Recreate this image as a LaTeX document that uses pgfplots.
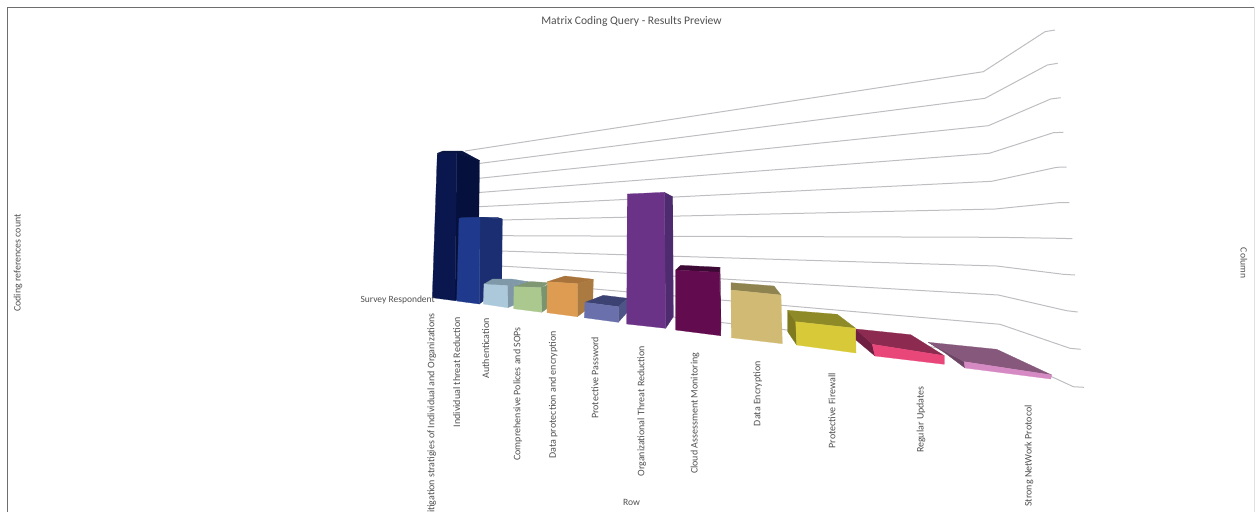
\documentclass[border=0pt]{standalone}
\usepackage{fontspec}
\setmainfont{Carlito}
\usepackage{pgfplots}
\pgfplotsset{compat=1.18}
\globalcolorstrue

\definecolor{txt}{HTML}{505050}
\definecolor{gridc}{HTML}{BEBEC2}
\definecolor{framec}{HTML}{6E6E6E}

% One flat facet of a perspective bar, in image coordinates
\newcommand{\face}[2]{\definecolor{f#1}{HTML}{#1}\addplot[fill=f#1,draw=f#1,line width=0.25pt,line join=round] coordinates {#2} -- cycle;}
\newcommand{\floorline}[1]{\addplot[gridc,line width=1pt,line join=round] coordinates {#1};}
\newcommand{\rowlabel}[3]{\node[rotate=90,anchor=east,inner sep=0pt,text=txt,font=\fontsize{10}{11}\selectfont] at (axis cs:#1,#2) {#3};}

\begin{document}
\begin{tikzpicture}
\path[use as bounding box,clip] (0,0) rectangle (1255pt,512pt);
\begin{axis}[
  at={(0,0)},anchor=south west,
  scale only axis,width=1255pt,height=512pt,
  xmin=0,xmax=1255,ymin=0,ymax=512,y dir=reverse,
  hide axis,clip=false]

% outer frame
\addplot[framec,line width=0.9pt] coordinates {(7.3,512) (7.3,7.3) (1255,7.3)};
\addplot[black!12,line width=0.6pt] coordinates {(1254.3,7.3) (1254.3,512)};

% receding lines of the value grid
\floorline{(465,151) (983.3,71.7) (1045,31.7) (1055,30)}
\floorline{(479,163.5) (985,98.3) (1047.3,65) (1057.7,63.3)}
\floorline{(479,178.3) (988.3,125.7) (1050.7,99) (1060.7,97.7)}
\floorline{(479,192.5) (989.3,153.3) (1053.3,132.7) (1063.3,132.3)}
\floorline{(479,206.7) (991.7,181.3) (1056.7,167.3) (1066.7,167)}
\floorline{(500,220) (995,209) (1058.3,202.7) (1069.3,202.7)}
\floorline{(500,235.7) (996.7,237.3) (1060,238.3) (1072.3,238.7)}
\floorline{(500,251) (996.7,266) (1063.3,274.3) (1075,275)}
\floorline{(500,266) (998.3,295) (1066.7,310.7) (1077.7,312)}
\floorline{(560,286) (1000,324.3) (1070,348.3) (1080.7,349.3)}
\floorline{(673,317) (787,330) (1000,355) (1051.7,376.7) (1073.3,386.7) (1084,387.3)}

% Mitigation
\face{0A153F}{(437.3,153.3) (443,151) (462,151) (479.5,160.5) (456.7,153)}
\face{06103C}{(456.7,152.7) (479.5,160.5) (478,290) (455,300.7)}
\face{0A174E}{(437.3,153.3) (456.7,152.7) (455,300.7) (432.3,297.7)}
% Individual threat reduction
\face{1B2E70}{(459,218.3) (463,217.3) (497,217.3) (502.3,219) (480,217.6)}
\face{1B2E71}{(480,217.3) (502.3,219) (501.7,287) (479.3,304)}
\face{1F3A8C}{(459,218.3) (480,217.3) (479.3,304) (456.7,301)}
% Authentication
\face{8099A8}{(484,284) (492.7,279) (511.7,279) (528.3,281.7) (507.3,285.7)}
\face{7F97A6}{(507.3,285.7) (528.3,281.7) (526,300) (507.7,307.7)}
\face{ABC9DA}{(484,284) (507.3,285.7) (507.7,307.7) (483.3,304)}
% Comprehensive policies
\face{7F9873}{(514,286.7) (530,281.5) (549,282.7) (541,287.7)}
\face{7B9470}{(541,287.7) (552,283) (552,305) (541.7,312.3)}
\face{ABC88F}{(514,286.7) (541,287.7) (541.7,312.3) (513.7,308.7)}
% Data protection
\face{A8743C}{(547.3,281.7) (565,276) (593.3,279.3) (577.3,283.7)}
\face{AA7A40}{(577.3,283.7) (593.3,279.3) (592.7,305) (577.3,316.7)}
\face{DD9C52}{(547.3,281.7) (577.3,283.7) (577.3,316.7) (547,312.7)}
% Protective password
\face{3C4372}{(585,302.3) (603.3,295.3) (627.7,298.3) (618.3,306.7)}
\face{4E5586}{(618.3,306.7) (627.7,298.3) (627.7,311.7) (618.3,322.3)}
\face{6A70AB}{(585,302.3) (618.3,306.7) (618.3,322.3) (584.3,317.7)}
% Organizational threat reduction
\face{4D2B6E}{(664.3,192.3) (672.7,196.7) (673.3,316.7) (665.7,328.3)}
\face{6B3388}{(627.3,194) (664.3,192.3) (665.7,328.3) (626.7,324)}
% Cloud assessment monitoring
\face{3D0A35}{(675.7,270) (680.7,265.3) (720,267.3) (719.3,272.3)}
\face{4A0B40}{(719.3,272.3) (720,267.3) (721,325) (720.7,335.7)}
\face{620B4F}{(675.7,270) (719.3,272.3) (720.7,335.7) (675.7,330)}
% Data encryption
\face{8F8350}{(731,290) (731,282.7) (774,286) (781,295)}
\face{D1BB74}{(731,290) (781,295) (782.3,343.7) (731.3,337.7)}
% Protective firewall
\face{7F7A20}{(787.7,310.3) (795.7,321.7) (796.7,345) (787.7,331.7)}
\face{8F8A28}{(787.7,310.3) (837.3,314.3) (855.7,328.3) (795.7,321.7)}
\face{D8C938}{(795.7,321.7) (855.7,328.3) (856,353) (796.7,345)}
% Regular updates
\face{6E1F42}{(856,329) (872.3,344.3) (875,356) (856,340)}
\face{8D2A50}{(856,329) (910.7,334.7) (944.3,355.7) (872.3,344.3)}
\face{E9467A}{(872.3,344.3) (944.3,355.7) (944.3,364.3) (875,356)}
% Strong network protocol
\face{6D4665}{(928.3,342.3) (964.3,361.7) (965,368) (945,353)}
\face{85587C}{(928.3,342.3) (996.7,349.3) (1051.7,375) (964.3,361.7)}
\face{D68AC3}{(964.3,361.7) (1051.7,375) (1050.7,379) (965,368)}

% row names, rotated and hanging from their top end
\rowlabel{431.7}{313}{Mitigation stratigies of Individual and Organizations}
\rowlabel{456.7}{316.7}{Individual threat Reduction}
\rowlabel{485.7}{318}{Authentication}
\rowlabel{517.7}{327}{Comprehensive Polices and SOPs}
\rowlabel{553.3}{331}{Data protection and encryption}
\rowlabel{595}{336.7}{Protective Password}
\rowlabel{641.7}{345.7}{Organizational Threat Reduction}
\rowlabel{695}{352.3}{Cloud Assessment Monitoring}
\rowlabel{757.7}{361}{Data Encryption}
\rowlabel{832}{373}{Protective Firewall}
\rowlabel{921}{386}{Regular Updates}
\rowlabel{1029}{405}{Strong NetWork Protocol}

% titles of the chart and its axes
\node[text=txt,inner sep=0pt,font=\fontsize{11.6}{12}\selectfont] at (axis cs:631.5,21) {Matrix Coding Query - Results Preview};
\node[text=txt,inner sep=0pt,font=\fontsize{9.6}{10}\selectfont] at (axis cs:631.5,502) {Row};
\node[text=txt,inner sep=0pt,rotate=90,font=\fontsize{9.9}{11}\selectfont] at (axis cs:18,263) {Coding references count};
\node[text=txt,inner sep=0pt,rotate=-90,font=\fontsize{9.6}{10}\selectfont] at (axis cs:1244,263) {Column};
\node[text=txt,inner sep=0pt,anchor=east,font=\fontsize{9.5}{10}\selectfont] at (axis cs:435,300) {Survey Respondent};
\end{axis}
\end{tikzpicture}
\end{document}
